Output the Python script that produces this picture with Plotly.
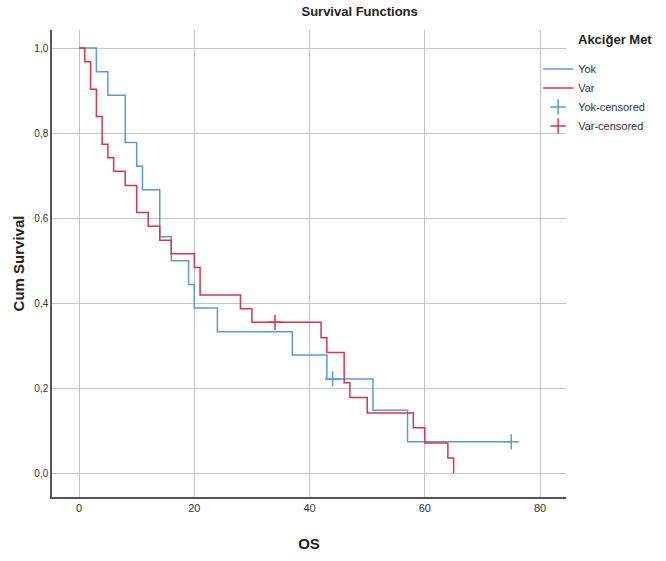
import plotly.graph_objects as go

# Kaplan-Meier step values
yok_time = [0, 3, 5, 8, 10, 11, 14, 16, 19, 20, 24, 37, 43, 51, 57, 75]
yok_surv = [1.0, 0.944, 0.889, 0.778, 0.722, 0.667, 0.556, 0.500, 0.444, 0.389,
            0.333, 0.278, 0.222, 0.148, 0.074, 0.074]
var_time = [0, 1, 2, 3, 4, 5, 6, 8, 10, 12, 14, 16, 20, 21, 28, 30, 42, 43, 46,
            47, 50, 58, 60, 64, 65]
var_surv = [1.0, 0.968, 0.903, 0.839, 0.774, 0.742, 0.710, 0.677, 0.613, 0.581,
            0.548, 0.516, 0.484, 0.419, 0.387, 0.355, 0.319, 0.284, 0.213, 0.178,
            0.142, 0.107, 0.071, 0.036, 0.0]
yok_cens_time = [44, 75]
yok_cens_surv = [0.222, 0.074]
var_cens_time = [34]
var_cens_surv = [0.355]

x_ticks = [0, 20, 40, 60, 80]
y_ticks = [0.0, 0.2, 0.4, 0.6, 0.8, 1.0]

BLUE = "#5B9BD5"
RED = "#D8344A"
FONT = "Liberation Sans, Arial, sans-serif"

fig = go.Figure()
fig.add_trace(go.Scatter(x=yok_time, y=yok_surv, mode="lines", line_shape="hv",
                         line=dict(color=BLUE, width=1.5), name="Yok"))
fig.add_trace(go.Scatter(x=var_time, y=var_surv, mode="lines", line_shape="hv",
                         line=dict(color=RED, width=1.5), name="Var"))
fig.add_trace(go.Scatter(x=yok_cens_time, y=yok_cens_surv, mode="markers",
                         marker=dict(symbol="cross-thin", size=11,
                                     line=dict(color=BLUE, width=1.5)),
                         name="Yok-censored"))
fig.add_trace(go.Scatter(x=var_cens_time, y=var_cens_surv, mode="markers",
                         marker=dict(symbol="cross-thin", size=11,
                                     line=dict(color=RED, width=1.5)),
                         name="Var-censored"))

fig.update_layout(
    width=666, height=561,
    margin=dict(l=52, r=100, t=30, b=64, autoexpand=False),
    paper_bgcolor="white", plot_bgcolor="white",
    separators=", ",
    font=dict(family=FONT, size=11, color="#333333"),
    title=dict(text="<b>Survival Functions</b>", x=0.54, xanchor="center",
               y=0.988, yanchor="top", font=dict(size=13, color="#222222")),
    showlegend=True,
    legend=dict(xref="container", yref="container", x=0.808, xanchor="left",
                y=0.903, yanchor="top",
                font=dict(size=11, color="#333333"), itemwidth=30,
                tracegroupgap=0, bgcolor="rgba(0,0,0,0)"),
    annotations=[dict(text="<b>Akciğer Met</b>", xref="paper", yref="paper",
                      x=1.02, y=1.0, xanchor="left", yanchor="top",
                      showarrow=False, font=dict(size=13, color="#222222"))],
)
fig.update_xaxes(range=[-4.7, 84.5], tickvals=x_ticks, showgrid=True,
                 gridcolor="#c4c4c4", gridwidth=1, zeroline=False,
                 showline=True, linecolor="#555555", linewidth=1.5,
                 ticks="", tickfont=dict(size=11, color="#333333"),
                 title=dict(text="<b>OS</b>", font=dict(size=15, color="#222222"),
                            standoff=26))
fig.update_yaxes(range=[-0.0557, 1.0424], tickvals=y_ticks, tickformat=".1f",
                 showgrid=True, gridcolor="#c4c4c4", gridwidth=1, zeroline=False,
                 showline=True, linecolor="#555555", linewidth=1.5,
                 ticks="", tickfont=dict(size=10, color="#333333"),
                 title=dict(text="<b>Cum Survival</b>",
                            font=dict(size=15, color="#222222"), standoff=6))

fig.write_html("out.html")
